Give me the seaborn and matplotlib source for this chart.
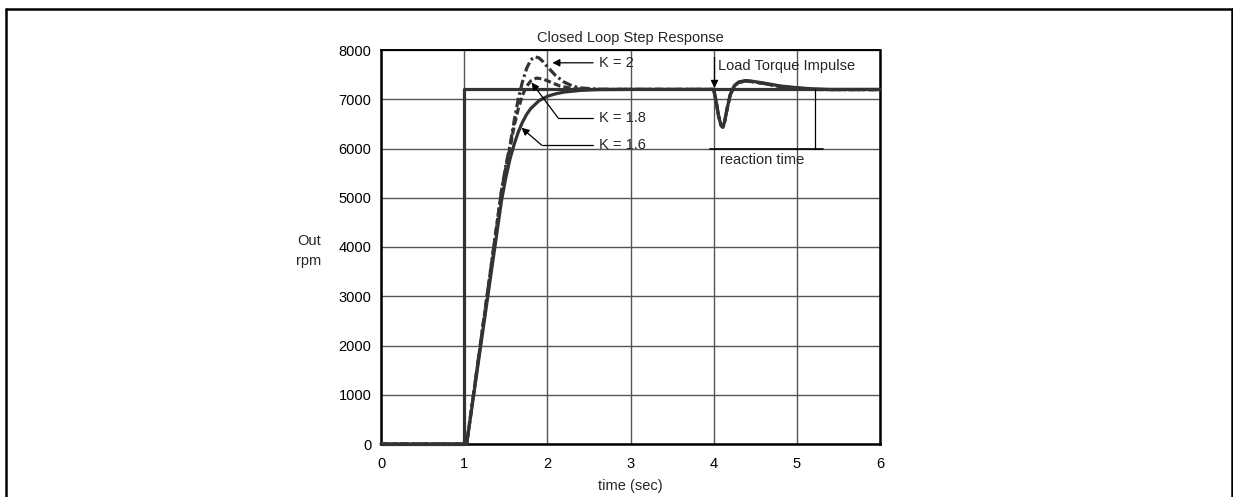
import matplotlib
matplotlib.use("Agg")
import matplotlib.pyplot as plt
import seaborn as sns
from matplotlib.lines import Line2D

sns.set_style("white")
plt.rcParams['font.family'] = ['Liberation Sans', 'DejaVu Sans']
plt.rcParams['font.size'] = 10.5

# ---- data ----
step_t = [0.0, 1.0, 1.0, 6.0]
step_v = [0, 0, 7200, 7200]

dip_t = [4.0, 4.03, 4.06, 4.09, 4.11, 4.13, 4.16, 4.2, 4.25, 4.3, 4.38, 4.45, 4.6, 4.8, 5.0, 5.2, 5.4, 6.0]

k16_t = [0.0, 1.0, 1.03, 1.45, 1.5, 1.55, 1.6, 1.65, 1.7, 1.75, 1.8, 1.9, 2.0, 2.1, 2.2, 2.4,
         2.6, 3.0] + dip_t
k16_v = [0, 0, 0, 4950, 5400, 5780, 6080, 6330, 6530, 6690, 6810, 6970, 7060, 7110, 7145, 7180,
         7195, 7200,
         7200, 6950, 6650, 6470, 6440, 6530, 6800, 7100, 7280, 7350, 7380, 7370, 7330, 7270, 7235, 7210, 7200, 7200]

k18_t = [0.0, 1.0, 1.03, 1.45, 1.5, 1.55, 1.6, 1.65, 1.7, 1.75, 1.8, 1.87, 1.95, 2.05, 2.15,
         2.3, 2.5, 3.0] + dip_t
k18_v = [0, 0, 0, 5150, 5600, 6000, 6450, 6800, 7080, 7260, 7370, 7430, 7410, 7340, 7270,
         7215, 7200, 7200,
         7200, 6950, 6650, 6470, 6440, 6530, 6800, 7100, 7270, 7340, 7370, 7360, 7320, 7260, 7225, 7200, 7195, 7195]

k20_t = [0.0, 1.0, 1.03, 1.45, 1.5, 1.55, 1.6, 1.65, 1.7, 1.75, 1.8, 1.85, 1.9, 1.95, 2.0,
         2.1, 2.2, 2.3, 2.4, 2.6, 3.0] + dip_t
k20_v = [0, 0, 0, 5150, 5650, 6050, 6550, 7000, 7350, 7620, 7800, 7860, 7840, 7760, 7660,
         7480, 7350, 7270, 7230, 7205, 7200,
         7200, 6950, 6650, 6460, 6430, 6520, 6790, 7090, 7270, 7340, 7370, 7360, 7320, 7260, 7225, 7200, 7195, 7195]

x_ticks = [0, 1, 2, 3, 4, 5, 6]
y_ticks = [0, 1000, 2000, 3000, 4000, 5000, 6000, 7000, 8000]

title = "Closed Loop Step Response"
xlabel = "time (sec)"
ylabel = "Out\nrpm"

# ---- figure ----
W, H = 1233, 497
fig = plt.figure(figsize=(W / 100, H / 100), dpi=100)
ax = fig.add_axes([381 / W, 1 - 444 / H, (880 - 381) / W, (444 - 50) / H])

col = "#333333"
lw = 2.3
sns.lineplot(x=step_t, y=step_v, ax=ax, color=col, lw=lw, estimator=None, sort=False, zorder=4)
sns.lineplot(x=k16_t, y=k16_v, ax=ax, color=col, lw=lw, estimator=None, sort=False, zorder=5)
l18 = sns.lineplot(x=k18_t, y=k18_v, ax=ax, color=col, lw=lw, estimator=None, sort=False, zorder=5).lines[-1]
l18.set_dashes((2.2, 1.0))
l20 = sns.lineplot(x=k20_t, y=k20_v, ax=ax, color=col, lw=lw, estimator=None, sort=False, zorder=5).lines[-1]
l20.set_dashes((3.0, 1.0, 0.8, 1.0))
for ln in ax.lines:
    ln.set_clip_on(False)
    ln.set_solid_joinstyle("round")
    ln.set_dash_joinstyle("round")

ax.set_xlim(0, 6)
ax.set_ylim(0, 8000)
ax.set_xticks(x_ticks)
ax.set_yticks(y_ticks)
ax.set_xticklabels([str(v) for v in x_ticks])
ax.set_yticklabels([str(v) for v in y_ticks])
ax.tick_params(length=0, labelsize=10.5, colors="black")
ax.tick_params(axis="y", pad=7)
ax.tick_params(axis="x", pad=9)
ax.grid(True, color="#555555", lw=1.0)
ax.set_axisbelow(True)
for s in ["left", "bottom", "right", "top"]:
    ax.spines[s].set_visible(True)
    ax.spines[s].set_color("black")
ax.spines["left"].set_linewidth(1.8)
ax.spines["bottom"].set_linewidth(1.8)
ax.spines["right"].set_linewidth(1.8)
ax.spines["top"].set_linewidth(1.4)

ax.set_title(title, fontsize=10.5, pad=6)
ax.set_xlabel(xlabel, fontsize=10.5, labelpad=6)
ax.set_ylabel(ylabel, fontsize=10.5, rotation=0, ha="center", va="center", linespacing=1.5)
ax.yaxis.set_label_coords(-0.145, 0.49)

# ---- annotations ----
ap = dict(arrowstyle="-|>", color="black", lw=0.9, mutation_scale=11, shrinkA=0, shrinkB=0)
fs = 10.5
# K = 2
ax.annotate("", xy=(2.06, 7740), xytext=(2.55, 7740), arrowprops=ap, zorder=6)
ax.text(2.62, 7740, "K = 2", va="center", ha="left", fontsize=fs)
# K = 1.8
ax.plot([2.13, 2.55], [6620, 6620], color="black", lw=0.9)
ax.annotate("", xy=(1.81, 7340), xytext=(2.13, 6620), arrowprops=ap, zorder=6)
ax.text(2.62, 6620, "K = 1.8", va="center", ha="left", fontsize=fs)
# K = 1.6
ax.plot([1.93, 2.55], [6070, 6070], color="black", lw=0.9)
ax.annotate("", xy=(1.69, 6420), xytext=(1.93, 6070), arrowprops=ap, zorder=6)
ax.text(2.62, 6070, "K = 1.6", va="center", ha="left", fontsize=fs)
# Load torque impulse
ax.annotate("", xy=(4.01, 7230), xytext=(4.01, 7850), arrowprops=ap, zorder=6)
ax.text(4.05, 7680, "Load Torque Impulse", va="center", ha="left", fontsize=fs)
# reaction time
ax.plot([3.96, 5.32], [6000, 6000], color="black", lw=1.2, zorder=6)
ax.plot([5.22, 5.22], [7200, 6000], color="black", lw=0.9, zorder=6)
ax.text(4.08, 5770, "reaction time", va="center", ha="left", fontsize=fs)

# ---- page frame ----
fl = 5.5 / W
fr = 1231.5 / W
ft = 1 - 8.5 / H
for xs, ys in [([fl, fl], [-0.05, ft]), ([fl, fr], [ft, ft]), ([fr, fr], [ft, -0.05])]:
    fig.add_artist(Line2D(xs, ys, color="black", lw=1.8, transform=fig.transFigure))

fig.savefig("out.png", dpi=100)
